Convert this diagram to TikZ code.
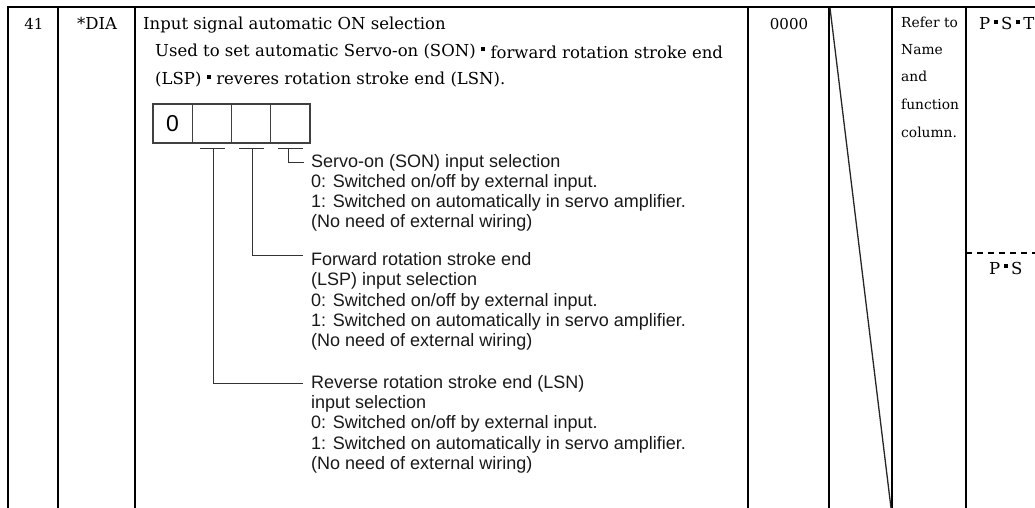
\documentclass[tikz,border=0pt]{standalone}
\usepackage{fontspec}
\setmainfont{DejaVu Serif}
\newfontfamily\sansf{Liberation Sans}
\newcommand\sqmark{\hspace{0.32em}\rule[0.34em]{0.26em}{0.26em}\hspace{0.32em}}
\newcommand\sqtight{\hspace{0.2em}\rule[0.34em]{0.26em}{0.26em}\hspace{0.2em}}
\begin{document}
\begin{tikzpicture}[x=1pt,y=-1pt,
  grid/.style={line width=1.6pt,black},
  serif/.style={font=\fontsize{16.5}{20}\selectfont,inner sep=0pt,anchor=base west,text=black},
  numtxt/.style={font=\fontsize{15}{18}\selectfont,inner sep=0pt,anchor=base,text=black},
  smallserif/.style={font=\fontsize{13.8}{16}\selectfont,inner sep=0pt,anchor=base west,text=black},
  sans/.style={font=\fontsize{18}{20}\sansf,inner sep=0pt,anchor=base west,text=black!90},
  cell/.style={draw=black!75,line width=1.1pt,minimum width=39.25pt,minimum height=39pt,inner sep=0pt,font=\fontsize{23}{23}\sansf},
  conn/.style={draw=black!80,line width=1pt},
  dashsep/.style={line width=1.8pt,black,dash pattern=on 6pt off 5pt}]
\useasboundingbox (0,0) rectangle (1035,508);
% table grid
\draw[line width=2.2pt] (8,7) -- (1035,7);
\foreach \xx in {8,58,135,748,829,892,966}{\draw[grid] (\xx,6) -- (\xx,508);}
\draw[line width=1.3pt,black!85] (830,8) -- (891,508);
\draw[dashsep] (966,253) -- (1035,253);
% left columns
\node[numtxt] (num) at (34,30) {41};
\node[serif,anchor=base] (abbr) at (97,30) {*DIA};
\node[serif] (title) at (143,30) {Input signal automatic ON selection};
\node[serif] (desc1) at (155,57) {Used to set automatic Servo-on (SON)\sqmark\raisebox{-2pt}{forward rotation stroke end}};
\node[serif] (desc2) at (155,85) {(LSP)\sqmark reveres rotation stroke end (LSN).};
\node[numtxt] (init) at (789,30) {0000};
\node[smallserif] (ref1) at (901,28) {Refer to};
\node[smallserif] (ref2) at (901,55) {Name};
\node[smallserif] (ref3) at (901,82) {and};
\node[smallserif] (ref4) at (901,110) {function};
\node[smallserif] (ref5) at (901,137) {column.};
\node[serif] (pst) at (979,30) {P\sqtight S\sqtight T};
\node[serif] (ps) at (989,274) {P\sqtight S};
% digit box
\node[cell] (c1) at (172.6,123.5) {0};
\node[cell] (c2) at (211.9,123.5) {};
\node[cell] (c3) at (251.1,123.5) {};
\node[cell] (c4) at (290.4,123.5) {};
% bars under cells
\coordinate (b2a) at (200,148); \coordinate (b2b) at (225,148); \coordinate (b2m) at (213,148);
\coordinate (b3a) at (239,148); \coordinate (b3b) at (264,148); \coordinate (b3m) at (252,148);
\coordinate (b4a) at (278,148); \coordinate (b4b) at (303,148); \coordinate (b4m) at (288,148);
\draw[conn] (b2a) -- (b2b);
\draw[conn] (b3a) -- (b3b);
\draw[conn] (b4a) -- (b4b);
\coordinate (eS) at (304,162);
\coordinate (eF) at (303,255);
\coordinate (eR) at (303,383);
\draw[conn] (b4m) |- (eS);
\draw[conn] (b3m) |- (eF);
\draw[conn] (b2m) |- (eR);
% Servo-on block
\node[sans] (s1) at (311,167) {Servo-on (SON) input selection};
\node[sans] (s2) at (311,187) {0: Switched on/off by external input.};
\node[sans] (s3) at (311,207) {1: Switched on automatically in servo amplifier.};
\node[sans] (s4) at (311,227) {(No need of external wiring)};
% Forward block
\node[sans] (f1) at (311,265) {Forward rotation stroke end};
\node[sans] (f2) at (311,285) {(LSP) input selection};
\node[sans] (f3) at (311,306) {0: Switched on/off by external input.};
\node[sans] (f4) at (311,326) {1: Switched on automatically in servo amplifier.};
\node[sans] (f5) at (311,346) {(No need of external wiring)};
% Reverse block
\node[sans] (r1) at (311,388) {Reverse rotation stroke end (LSN)};
\node[sans] (r2) at (311,408) {input selection};
\node[sans] (r3) at (311,428) {0: Switched on/off by external input.};
\node[sans] (r4) at (311,449) {1: Switched on automatically in servo amplifier.};
\node[sans] (r5) at (311,469) {(No need of external wiring)};
\end{tikzpicture}
\end{document}
